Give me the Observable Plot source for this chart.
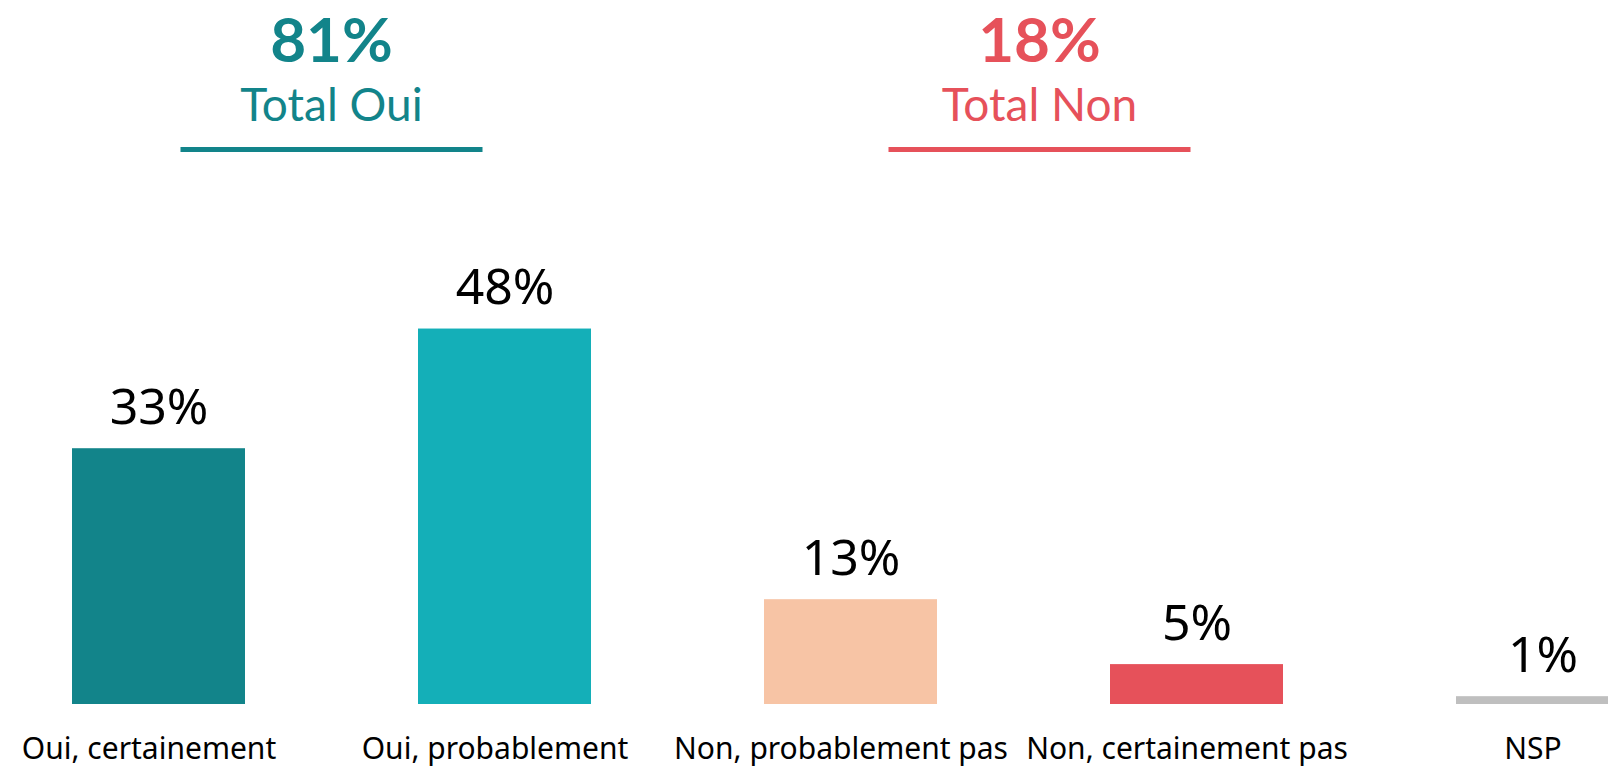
<!DOCTYPE html>
<html>
<head>
<meta charset="utf-8">
<script src="https://cdn.jsdelivr.net/npm/d3@7"></script>
<script src="https://cdn.jsdelivr.net/npm/@observablehq/plot@0.6"></script>
<style>
  html, body { margin: 0; padding: 0; background: #fff; }
  #chart svg { display: block; }
</style>
</head>
<body>
<div id="chart"></div>
<script>
// Data
const categories = ["Oui, certainement", "Oui, probablement", "Non, probablement pas", "Non, certainement pas", "NSP"];
const values = [32.7, 48.0, 13.4, 5.1, 1.0];
const barColors = ["#12848A", "#14AFB8", "#F7C4A5", "#E6515A", "#BFBFBF"];

const groupLabels = ["Total Oui", "Total Non"];
const groupTotals = [81, 18];
const groupMembers = [["Oui, certainement", "Oui, probablement"], ["Non, probablement pas", "Non, certainement pas"]];
const groupColors = ["#12848A", "#E6515A"];

const data = categories.map((c, i) => ({cat: c, value: values[i], color: barColors[i], label: Math.round(values[i]) + "%"}));

const W = 1608, H = 766;
const font = "'Noto Sans', 'Open Sans', sans-serif";
const headFont = "Lato, 'Noto Sans', sans-serif";

const plot = Plot.plot({
  width: W,
  height: H,
  marginTop: 0,
  marginBottom: 62,
  marginLeft: 0,
  marginRight: 0,
  style: {fontFamily: font, background: "white", overflow: "hidden"},
  x: {domain: categories, range: [-101, 1802], padding: 0.5, axis: null},
  y: {domain: [0, 90], axis: null},
  marks: [
    Plot.barY(data, {x: "cat", y: "value", fill: "color"}),
    Plot.text(data, {x: "cat", y: "value", text: "label", dy: -25, lineAnchor: "bottom", fontSize: 50, fill: "#000"}),
    Plot.text(data, {x: "cat", y: () => 0, text: "cat", dx: -10, dy: 54, lineAnchor: "bottom", fontSize: 30, fill: "#000"})
  ]
});
document.getElementById("chart").appendChild(plot);

// Group headers positioned from the plot's own x scale
const xs = plot.scale("x");
const bw = xs.bandwidth;
const headerShift = [0, 16];
const svg = d3.select(plot);
const g = svg.append("g").attr("font-family", headFont).attr("text-anchor", "middle");
groupLabels.forEach((lab, i) => {
  const centers = groupMembers[i].map(c => xs.apply(c) + bw / 2);
  const cx = d3.mean(centers) + headerShift[i];
  g.append("text").attr("x", cx).attr("y", 62).attr("font-size", 62).attr("font-weight", 700)
    .attr("fill", groupColors[i]).text(groupTotals[i] + "%");
  g.append("text").attr("x", cx).attr("y", 121).attr("font-size", 46)
    .attr("fill", groupColors[i]).text(lab);
  g.append("line").attr("x1", cx - 151).attr("x2", cx + 151).attr("y1", 149.5).attr("y2", 149.5)
    .attr("stroke", groupColors[i]).attr("stroke-width", 5);
});
</script>
</body>
</html>
